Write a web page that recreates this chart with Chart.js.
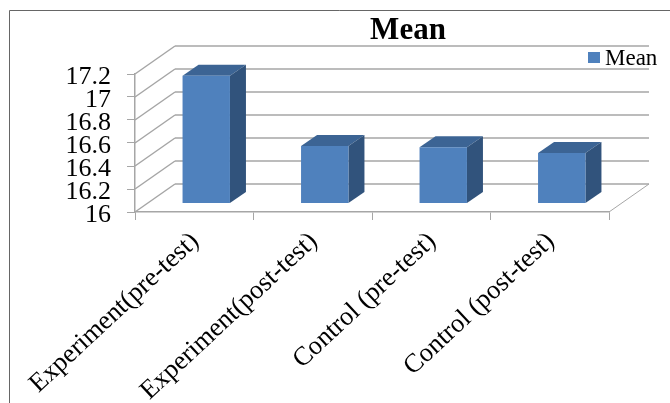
<!DOCTYPE html>
<html>
<head>
<meta charset="utf-8">
<title>Mean</title>
<script src="https://cdn.jsdelivr.net/npm/chart.js@4/dist/chart.umd.min.js"></script>
<style>
    html, body { margin: 0; padding: 0; background: #ffffff; }
    canvas { display: block; }
</style>
</head>
<body>
<canvas id="meanChart" width="670" height="403"></canvas>
<script>
    const categories = ['Experiment(pre-test)', 'Experiment(post-test)', 'Control (pre-test)', 'Control (post-test)'];
    const seriesName = 'Mean';
    const meanValues = [17.11, 16.5, 16.49, 16.44];
    const yTicks = [16, 16.2, 16.4, 16.6, 16.8, 17, 17.2];
    const yTickLabels = ['16', '16.2', '16.4', '16.6', '16.8', '17', '17.2'];

    const serif = '"Liberation Serif", serif';
    const colors = {
        front: '#4F81BD',
        top: '#3C6494',
        side: '#31537C',
        grid: '#A6A6A6',
        frame: '#666666'
    };

    // Depth of the floor, and where the bars stand on it
    const wallDepth = { x: 40, y: -28 };
    const barShift = { x: 12, y: -8.5 };
    const barDepth = { x: 16, y: -11 };

    function line(ctx, x1, y1, x2, y2) {
        ctx.beginPath();
        ctx.moveTo(x1, y1);
        ctx.lineTo(x2, y2);
        ctx.stroke();
    }

    function poly(ctx, points, fill) {
        ctx.fillStyle = fill;
        ctx.beginPath();
        points.forEach(function(p, i) {
            if (i === 0) {
                ctx.moveTo(p[0], p[1]);
            } else {
                ctx.lineTo(p[0], p[1]);
            }
        });
        ctx.closePath();
        ctx.fill();
    }

    // Side wall, back wall and floor
    function drawWalls(chart) {
        const ctx = chart.ctx;
        const area = chart.chartArea;
        const yScale = chart.scales.y;

        ctx.save();
        ctx.strokeStyle = colors.grid;
        ctx.lineWidth = 1.5;
        yTicks.forEach(function(value) {
            const y = yScale.getPixelForValue(value);
            line(ctx, area.left, y, area.left + wallDepth.x, y + wallDepth.y);
            line(ctx, area.left + wallDepth.x, y + wallDepth.y, area.right + wallDepth.x, y + wallDepth.y);
        });
        ctx.lineWidth = 1;
        line(ctx, area.right, area.bottom, area.right + wallDepth.x, area.bottom + wallDepth.y);
        ctx.restore();
    }

    // Top and side faces of each bar, taken from the bar elements
    function drawBarFaces(chart) {
        const ctx = chart.ctx;
        chart.getDatasetMeta(0).data.forEach(function(bar) {
            const left = bar.x - bar.width / 2 + barShift.x;
            const right = bar.x + bar.width / 2 + barShift.x;
            const top = bar.y + barShift.y;
            const bottom = bar.base + barShift.y;
            poly(ctx, [
                [left, top], [right, top],
                [right + barDepth.x, top + barDepth.y], [left + barDepth.x, top + barDepth.y]
            ], colors.top);
            poly(ctx, [
                [right, top], [right + barDepth.x, top + barDepth.y],
                [right + barDepth.x, bottom + barDepth.y], [right, bottom]
            ], colors.side);
        });
    }

    const boxPlugin = {
        id: 'box3d',
        beforeDatasetsDraw: function(chart) {
            drawWalls(chart);
            drawBarFaces(chart);
            chart.ctx.save();
            chart.ctx.translate(barShift.x, barShift.y);
        },
        afterDatasetsDraw: function(chart) {
            chart.ctx.restore();
        },
        afterDraw: function(chart) {
            const ctx = chart.ctx;
            ctx.save();

            // Outer frame, open on the right and at the bottom
            ctx.strokeStyle = colors.frame;
            ctx.lineWidth = 1;
            ctx.beginPath();
            ctx.moveTo(9.5, 403);
            ctx.lineTo(9.5, 10.5);
            ctx.lineTo(670, 10.5);
            ctx.stroke();

            // Title
            ctx.fillStyle = '#000000';
            ctx.textBaseline = 'alphabetic';
            ctx.textAlign = 'center';
            ctx.font = 'bold 31px ' + serif;
            ctx.fillText(seriesName, 408, 39);

            // Legend
            ctx.fillStyle = colors.front;
            ctx.fillRect(588, 52, 12, 11);
            ctx.fillStyle = '#000000';
            ctx.textAlign = 'left';
            ctx.font = '23px ' + serif;
            ctx.fillText(chart.data.datasets[0].label, 605, 65);

            ctx.restore();
        }
    };

    new Chart(document.getElementById('meanChart'), {
        type: 'bar',
        data: {
            labels: categories,
            datasets: [{
                label: seriesName,
                data: meanValues,
                base: yTicks[0],
                backgroundColor: colors.front,
                borderWidth: 0,
                categoryPercentage: 1,
                barPercentage: 0.4
            }]
        },
        plugins: [boxPlugin],
        options: {
            responsive: false,
            animation: false,
            layout: {
                padding: { top: 74, right: 61, left: 0, bottom: 0 }
            },
            plugins: {
                legend: { display: false },
                title: { display: false },
                tooltip: { enabled: false }
            },
            scales: {
                x: {
                    afterFit: function(scale) {
                        scale.height = 191;
                        scale.paddingLeft = 0;
                        scale.paddingRight = 0;
                    },
                    border: { color: colors.grid, width: 1.5 },
                    grid: { drawOnChartArea: false, color: colors.grid, tickLength: 8 },
                    ticks: {
                        color: '#000000',
                        font: { family: serif, size: 26.5 },
                        minRotation: 43,
                        maxRotation: 43,
                        padding: 6,
                        labelOffset: 1
                    }
                },
                y: {
                    min: 16,
                    max: 17.2,
                    afterBuildTicks: function(scale) {
                        scale.ticks = yTicks.map(function(value) {
                            return { value: value };
                        });
                    },
                    afterFit: function(scale) {
                        scale.width = 135;
                        scale.paddingTop = 0;
                        scale.paddingBottom = 0;
                    },
                    border: { color: colors.grid, width: 1.5 },
                    grid: { drawOnChartArea: false, color: colors.grid, tickLength: 8 },
                    ticks: {
                        color: '#000000',
                        font: { family: serif, size: 26 },
                        padding: 16,
                        labelOffset: 3,
                        autoSkip: false,
                        callback: function(value, index) {
                            return yTickLabels[index];
                        }
                    }
                }
            }
        }
    });
</script>
</body>
</html>
